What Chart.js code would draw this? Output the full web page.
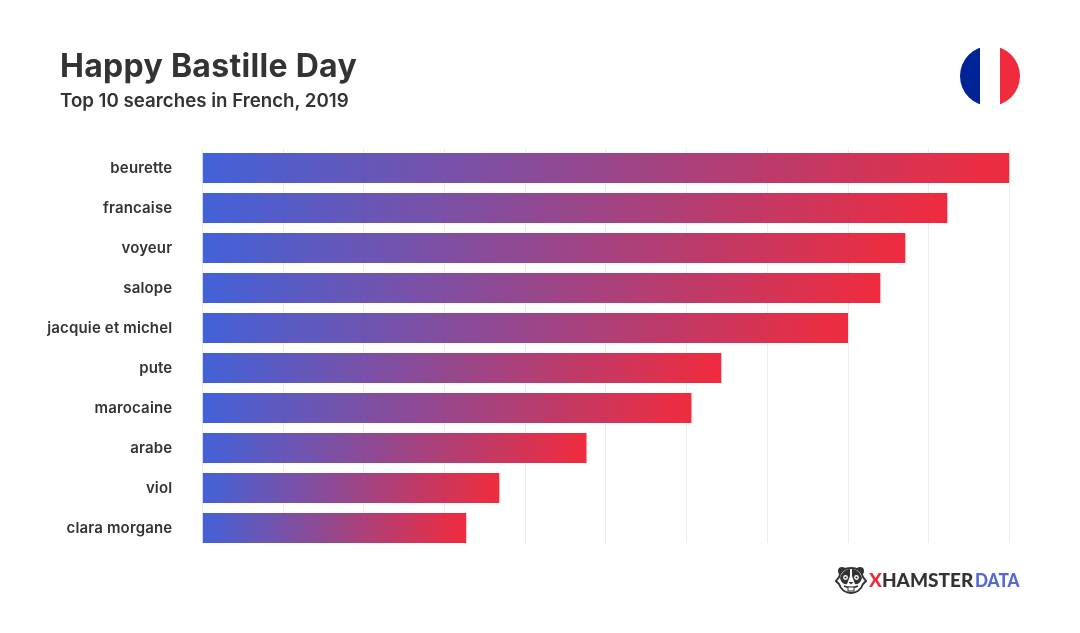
<!DOCTYPE html>
<html><head><meta charset="utf-8">
<style>
html,body{margin:0;padding:0;background:#fff;width:1080px;height:633px;overflow:hidden}
#wrap{position:relative;width:1080px;height:633px}
canvas{position:absolute;left:0;top:0}
.t{position:absolute;white-space:nowrap;color:#333;font-family:Inter,"Open Sans",sans-serif}
#title{left:60px;top:47px;font-size:32px;line-height:38px;font-weight:700;letter-spacing:0.3px}
#sub{left:60px;top:89px;font-size:18.7px;line-height:23px;font-weight:600}
.logo{top:568px;font-family:Lato,sans-serif;font-size:19px;line-height:24px;font-weight:900}
</style></head><body>
<div id="wrap">
<canvas id="c" width="1080" height="633"></canvas>
<div class="t" id="title">Happy Bastille Day</div>
<div class="t" id="sub">Top 10 searches in French, 2019</div>
<svg style="position:absolute;left:960px;top:46px" width="60" height="60" viewBox="0 0 60 60">
<defs><clipPath id="fc"><circle cx="30" cy="30" r="30"/></clipPath></defs>
<g clip-path="url(#fc)"><rect x="0" y="0" width="20" height="60" fill="#002395"/><rect x="20" width="20" height="60" fill="#fff"/><rect x="40" width="20" height="60" fill="#ef2b3d"/></g>
</svg>
<svg style="position:absolute;left:835px;top:565px" width="32" height="30" viewBox="0 0 32 30">
<circle cx="7" cy="6" r="4" fill="#333"/><circle cx="25" cy="6" r="4" fill="#333"/>
<path d="M16 3C8 3 5 8 4 12L1 16l3 3c2 6 7 9 12 9s10-3 12-9l3-3-3-4C27 8 24 3 16 3z" fill="#fff" stroke="#333" stroke-width="2"/>
<path d="M5 13C7 6 12 4 15 4l0 7-3 8c-3 1-6-2-7-6zM27 13C25 6 20 4 17 4l0 7 3 8c3 1 6-2 7-6z" fill="#333"/>
<circle cx="10.5" cy="12.5" r="2.4" fill="#fff"/><circle cx="21.5" cy="12.5" r="2.4" fill="#fff"/>
<circle cx="10.5" cy="12.5" r="1.1" fill="#333"/><circle cx="21.5" cy="12.5" r="1.1" fill="#333"/>
<path d="M13.5 17h5l-2.5 2.5z" fill="#333"/>
<path d="M9 21c4 2 10 2 14 0" fill="none" stroke="#333" stroke-width="1.4"/>
<rect x="13" y="22" width="6" height="4" fill="#fff" stroke="#333" stroke-width="1"/>
</svg>
<div class="t logo" style="left:869px"><span style="color:#e8303f">X</span>HAMSTER</div>
<div class="t logo" id="d" style="left:975px;color:#5469d4;transform:scaleX(.9);transform-origin:left center">DATA</div>
</div>
<script src="https://cdn.jsdelivr.net/npm/chart.js@4"></script>
<script>
const categories=["beurette","francaise","voyeur","salope","jacquie et michel","pute","marocaine","arabe","viol","clara morgane"];
const values=[100,92.3,87.1,84,80,64.3,60.6,47.6,36.8,32.7];
const colorStart="#4262d8";
const colorEnd="#f02b3d";
function barGradient(ctx){
  const chart=ctx.chart;
  if(!chart.chartArea||ctx.type!=="data")return colorStart;
  const x=chart.scales.x;
  const g=chart.ctx.createLinearGradient(x.getPixelForValue(0),0,x.getPixelForValue(ctx.raw),0);
  g.addColorStop(0,colorStart);g.addColorStop(1,colorEnd);
  return g;
}
const trimGrid={id:"trimGrid",
  beforeDraw(chart){chart.ctx.letterSpacing="0.15px";},
  afterDatasetsDraw(chart){
  const a=chart.chartArea,c=chart.ctx;
  c.save();c.fillStyle="#fff";c.fillRect(a.left-1,a.bottom-5,a.width+2,6);c.restore();
}};
new Chart(document.getElementById("c"),{
  type:"bar",
  plugins:[trimGrid],
  data:{labels:categories,datasets:[{data:values,backgroundColor:barGradient,borderWidth:0,categoryPercentage:1,barPercentage:.75}]},
  options:{
    indexAxis:"y",responsive:false,animation:false,
    layout:{padding:{left:0,right:70.5,top:148,bottom:85}},
    plugins:{legend:{display:false},tooltip:{enabled:false}},
    scales:{
      x:{min:0,max:100,ticks:{display:false,stepSize:10},border:{display:false},grid:{color:"#ececec",lineWidth:1,drawTicks:false}},
      y:{afterFit(s){s.width=202.3},border:{display:false},grid:{display:false,drawTicks:false},
        ticks:{padding:30,color:"#333",font:{family:"Inter",size:15,weight:"600"}}}
    }
  }
});
</script>
</body></html>
